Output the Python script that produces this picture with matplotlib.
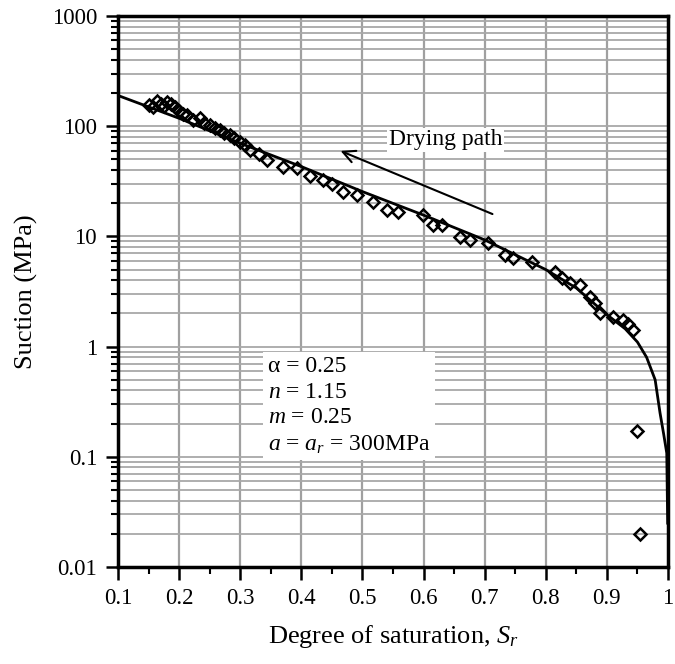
import numpy as np
import matplotlib.pyplot as plt
from matplotlib.ticker import FixedLocator, NullFormatter

plt.rcParams['font.family'] = ['Liberation Serif', 'DejaVu Serif']
plt.rcParams['mathtext.fontset'] = 'custom'
plt.rcParams['mathtext.rm'] = 'Liberation Serif'
plt.rcParams['mathtext.it'] = 'Liberation Serif:italic'

# measured points (degree of saturation, suction MPa)
sr_data = [0.150, 0.158, 0.164, 0.170, 0.176, 0.180, 0.186, 0.193, 0.200, 0.207,
           0.213, 0.222, 0.234, 0.240, 0.251, 0.258, 0.267, 0.274, 0.283, 0.290,
           0.300, 0.308, 0.316, 0.330, 0.344, 0.370, 0.393, 0.414, 0.435, 0.450,
           0.468, 0.491, 0.517, 0.540, 0.558, 0.599, 0.615, 0.630, 0.660, 0.676,
           0.705, 0.733, 0.746, 0.777, 0.815, 0.827, 0.840, 0.856, 0.872, 0.880,
           0.889, 0.910, 0.926, 0.935, 0.943, 0.949, 0.954]
suction_data = [156, 150, 168, 160, 152, 166, 158, 149, 138, 130,
                126, 115, 119, 108, 102, 96, 92, 87, 83, 78,
                72, 68, 61, 56, 49, 43, 42, 35, 32.7, 30,
                25.3, 23.8, 20.5, 17.4, 16.6, 15.6, 12.7, 12.7, 9.9, 9.3,
                8.7, 6.8, 6.4, 5.9, 4.75, 4.2, 3.8, 3.6, 2.8, 2.5,
                2.0, 1.86, 1.74, 1.6, 1.41, 0.17, 0.020]

# fitted curve
sr_fit = [0.10, 0.20, 0.30, 0.40, 0.50, 0.60, 0.70, 0.80, 0.85, 0.90,
          0.93, 0.95, 0.965, 0.979, 0.987, 0.993, 0.998, 0.9995]
suction_fit = [190, 118, 70, 43, 25.5, 15.6, 9.3, 5.0, 3.4, 1.95,
               1.45, 1.1, 0.8, 0.50, 0.25, 0.16, 0.108, 0.025]

x_ticks = [0.1, 0.2, 0.3, 0.4, 0.5, 0.6, 0.7, 0.8, 0.9, 1.0]
x_tick_labels = ['0.1', '0.2', '0.3', '0.4', '0.5', '0.6', '0.7', '0.8', '0.9', '1']
y_ticks = [0.01, 0.1, 1, 10, 100, 1000]
y_tick_labels = ['0.01', '0.1', '1', '10', '100', '1000']

fig = plt.figure(figsize=(6.75, 6.64), dpi=100)
ax = fig.add_axes([0.1748, 0.1461, 0.8148, 0.8298])

ax.set_yscale('log')
ax.set_xlim(0.1, 1.0)
ax.set_ylim(0.01, 1000)

# ticks and grid
y_minor = [m * 10.0 ** e for e in range(-2, 3) for m in range(2, 10)]
ax.xaxis.set_major_locator(FixedLocator(x_ticks))
ax.xaxis.set_minor_locator(FixedLocator(np.arange(0.15, 1.0, 0.1)))
ax.yaxis.set_major_locator(FixedLocator(y_ticks))
ax.yaxis.set_minor_locator(FixedLocator(y_minor))
ax.yaxis.set_minor_formatter(NullFormatter())
ax.set_xticklabels(x_tick_labels)
ax.set_yticklabels(y_tick_labels)

for xv in x_ticks[1:-1]:
    ax.axvline(xv, color='#a0a0a0', lw=1.6, zorder=0)
for yv in y_ticks[1:-1] + y_minor:
    ax.axhline(yv, color='#a8a8a8', lw=1.3, zorder=0)

ax.plot(sr_fit, suction_fit, color='black', lw=2.0, zorder=3)
ax.plot(sr_data, suction_data, linestyle='none', marker='D', markersize=6.5,
        markerfacecolor='none', markeredgecolor='black', markeredgewidth=1.8, zorder=4)

# drying path arrow
ax.annotate('', xy=(0.46, 61), xytext=(0.717, 15.6),
            arrowprops=dict(arrowstyle='->', color='black', lw=1.5, mutation_scale=22))
ax.text(0.543, 75, 'Drying path', fontsize=17, va='center', ha='left',
        bbox=dict(facecolor='white', edgecolor='none', pad=1))

# parameter box
ax.text(0.345, 0.29,
        'α = 0.25\n$n$ = 1.15\n$m$ = 0.25\n$a$ = $a_r$ = 300MPa',
        fontsize=17, linespacing=1.3, va='center', ha='left', zorder=5,
        bbox=dict(facecolor='white', edgecolor='none', pad=3))

for sp in ax.spines.values():
    sp.set_linewidth(2.5)

ax.tick_params(which='major', direction='out', length=9, width=1.8, labelsize=16.5, pad=6)
ax.tick_params(which='minor', direction='out', length=5, width=1.5)

ax.set_xlabel('Degree of saturation, $S_r$', fontsize=19, labelpad=10)
ax.set_ylabel('Suction (MPa)', fontsize=19, labelpad=10)

fig.savefig('out.png', dpi=100)
